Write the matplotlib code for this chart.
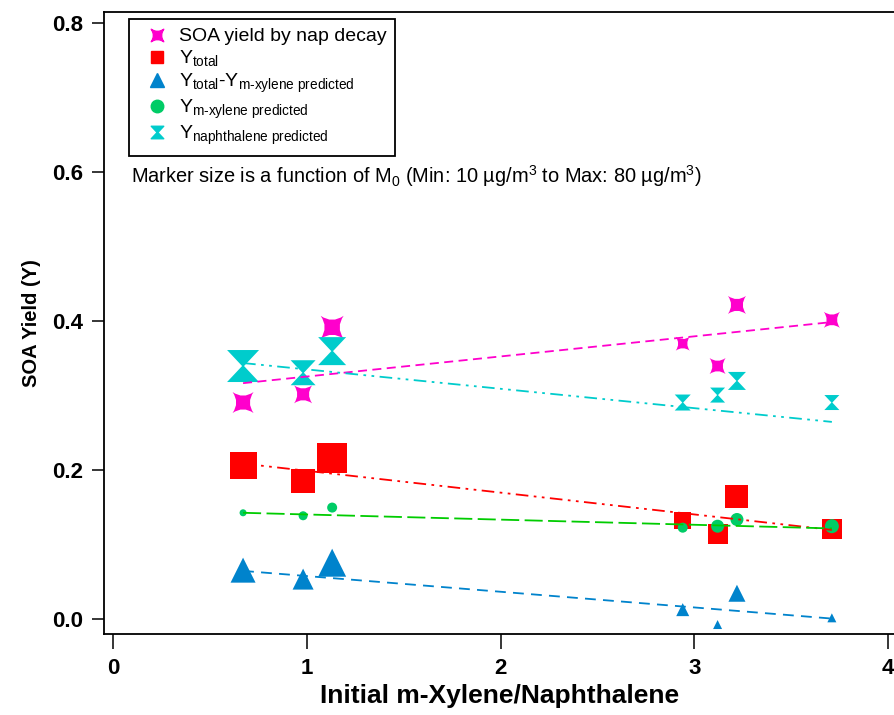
import numpy as np
import matplotlib
matplotlib.use('Agg')
import matplotlib.pyplot as plt
from matplotlib.path import Path
from matplotlib.lines import Line2D

plt.rcParams['font.family'] = ['Liberation Sans', 'DejaVu Sans']
plt.rcParams['mathtext.fontset'] = 'custom'
plt.rcParams['mathtext.rm'] = 'Liberation Sans'
plt.rcParams['mathtext.it'] = 'Liberation Sans:italic'
plt.rcParams['mathtext.bf'] = 'Liberation Sans:bold'
plt.rcParams['mathtext.default'] = 'regular'

# Razao inicial m-xileno / naftaleno de cada experimento
razao = [0.67, 0.98, 1.13, 2.94, 3.12, 3.22, 3.71]

# Rendimentos de SOA (Y)
y_nap_decay = [0.291, 0.302, 0.392, 0.370, 0.340, 0.422, 0.402]
y_total = [0.206, 0.186, 0.217, 0.133, 0.115, 0.165, 0.121]
y_total_menos_mx = [0.066, 0.054, 0.076, 0.013, -0.007, 0.035, 0.002]
y_mx_pred = [0.143, 0.139, 0.150, 0.123, 0.125, 0.134, 0.125]
y_nap_pred = [0.340, 0.331, 0.360, 0.291, 0.301, 0.320, 0.291]

# Retas de tendencia (valores nas extremidades)
fit_x = [0.67, 3.71]
fit_nap_decay = [0.317, 0.399]
fit_total = [0.209, 0.120]
fit_total_menos_mx = [0.065, 0.001]
fit_mx_pred = [0.143, 0.122]
fit_nap_pred = [0.344, 0.265]

# Tamanho dos marcadores (pixels), depende de M0
tam_estrela = [21, 18, 23, 14, 16, 18, 16]
tam_quadrado = [27, 24, 30, 17, 20, 23, 20]
tam_triangulo = [25, 21, 28, 13, 9, 17, 9]
tam_circulo = [7, 9, 10, 10, 13, 13, 14]
tam_ampulheta = [32, 25, 28, 16, 15, 18, 15]

magenta = '#ff00cc'
vermelho = '#ff0000'
azul = '#0083cc'
verde = '#00cc66'
verde_linha = '#00cc00'
ciano = '#00cccc'

# estrela de 4 pontas com lados concavos
c = 0.3
estrela = Path(
    [(-1, -1), (0, -c), (1, -1), (c, 0), (1, 1), (0, c), (-1, 1), (-c, 0), (-1, -1), (-1, -1)],
    [Path.MOVETO] + [Path.CURVE3] * 8 + [Path.CLOSEPOLY])

# ampulheta (dois triangulos unidos pela ponta)
ampulheta = Path(
    [(-1, 1), (1, 1), (0.06, 0), (1, -1), (-1, -1), (-0.06, 0), (-1, 1)],
    [Path.MOVETO] + [Path.LINETO] * 5 + [Path.CLOSEPOLY])


def area(px):
    # largura em pixels -> area do scatter em pt^2
    return (np.array(px) * 0.72) ** 2


fig = plt.figure(figsize=(8.95, 7.15), dpi=100)
ax = fig.add_axes([104 / 895, 81 / 715, 791 / 895, 621.7 / 715])

ax.scatter(razao, y_nap_decay, s=area(tam_estrela), marker=estrela, color=magenta, linewidths=0, zorder=3)
ax.scatter(razao, y_total, s=area(tam_quadrado), marker='s', color=vermelho, linewidths=0, zorder=3)
ax.scatter(razao, y_total_menos_mx, s=area(tam_triangulo), marker='^', color=azul, linewidths=0, zorder=3)
ax.scatter(razao, y_mx_pred, s=area(tam_circulo), marker='o', color=verde, linewidths=0, zorder=3)
ax.scatter(razao, y_nap_pred, s=area(tam_ampulheta), marker=ampulheta, color=ciano, linewidths=0, zorder=3)

traco_ponto_ponto = (0, (7, 3, 1.5, 3, 1.5, 3))
ax.plot(fit_x, fit_nap_decay, color=magenta, lw=1.3, ls=(0, (5, 3)), zorder=4)
ax.plot(fit_x, fit_nap_pred, color=ciano, lw=1.3, ls=traco_ponto_ponto, zorder=4)
ax.plot(fit_x, fit_total, color=vermelho, lw=1.3, ls=traco_ponto_ponto, zorder=4)
ax.plot(fit_x, fit_mx_pred, color=verde_linha, lw=1.3, ls=(0, (10, 3)), zorder=4)
ax.plot(fit_x, fit_total_menos_mx, color=azul, lw=1.3, ls=(0, (6, 4)), zorder=4)

ax.set_xlim(-0.048, 4.036)
ax.set_ylim(-0.0197, 0.8148)
ax.set_xticks([0, 1, 2, 3, 4])
ax.set_yticks([0.0, 0.2, 0.4, 0.6, 0.8])
ax.set_yticklabels(['0.0', '0.2', '0.4', '0.6', '0.8'])
ax.tick_params(axis='y', direction='out', length=9, width=1.1, pad=6, labelsize=16)
ax.tick_params(axis='x', direction='out', length=11, width=1.1, pad=6, labelsize=16)
for lab in ax.get_xticklabels() + ax.get_yticklabels():
    lab.set_fontweight('bold')

for lado in ['left', 'bottom', 'top']:
    ax.spines[lado].set_linewidth(1.3)
ax.spines['right'].set_visible(False)

ax.set_xlabel('Initial m-Xylene/Naphthalene', fontsize=19, fontweight='bold', labelpad=4)
ax.set_ylabel('SOA Yield (Y)', fontsize=14.5, fontweight='bold', labelpad=8)

ax.text(0.034, 0.737,
        'Marker size is a function of M$_0$ (Min: 10 \u00b5g/m$^3$ to Max: 80 \u00b5g/m$^3$)',
        transform=ax.transAxes, fontsize=14.4, va='center', ha='left')

hifen = '\u2010'
itens = [
    (Line2D([], [], marker=estrela, ls='none', color=magenta, markersize=9), 'SOA yield by nap decay'),
    (Line2D([], [], marker='s', ls='none', color=vermelho, markersize=9), 'Y$_{total}$'),
    (Line2D([], [], marker='^', ls='none', color=azul, markersize=10),
     'Y$_{total}$' + hifen + 'Y$_{m' + hifen + 'xylene\\ predicted}$'),
    (Line2D([], [], marker='o', ls='none', color=verde, markersize=9),
     'Y$_{m' + hifen + 'xylene\\ predicted}$'),
    (Line2D([], [], marker=ampulheta, ls='none', color=ciano, markersize=9),
     'Y$_{naphthalene\\ predicted}$'),
]
leg = ax.legend([h for h, _ in itens], [t for _, t in itens],
                loc='upper left', bbox_to_anchor=(0.0316, 0.989), borderaxespad=0,
                fontsize=14, frameon=True, fancybox=False, edgecolor='black',
                borderpad=0.45, labelspacing=0.15, handlelength=2.0, handletextpad=0.1)
leg.get_frame().set_linewidth(1.3)
leg.get_frame().set_alpha(1)

fig.savefig('out.png', dpi=100)
